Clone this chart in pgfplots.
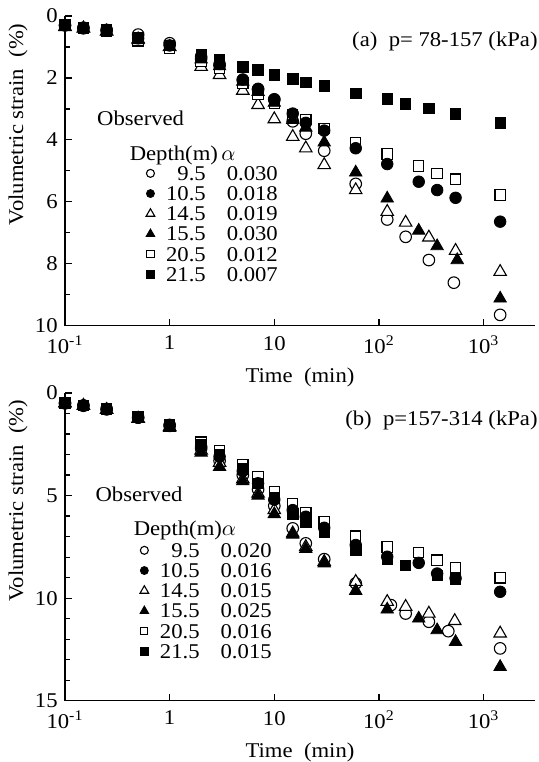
\documentclass[border=0pt]{standalone}
\usepackage{fontspec}
\setmainfont{Liberation Serif}[FakeStretch=1.08]
\usepackage{pgfplots}
\usepackage{pgfplotstable}
\pgfplotsset{compat=1.18}
\pgfkeys{/pgf/number format/assume math mode=true}

\pgfplotstableread{
t y
0.1 0.30
0.15 0.38
0.25 0.45
0.5 0.60
1 0.88
2 1.37
3 1.60
5 2.07
7 2.37
10 2.69
15 3.40
20 3.80
30 4.35
60 5.42
120 6.57
180 7.13
300 7.88
520 8.61
1440 9.65
}\aOC
\pgfplotstableread{
t y
0.1 0.30
0.15 0.40
0.25 0.47
0.5 0.72
1 0.95
2 1.30
3 1.55
5 2.05
7 2.35
10 2.70
15 3.15
20 3.45
30 3.70
60 4.27
120 4.78
240 5.35
360 5.62
540 5.87
1440 6.64
}\aFC
\pgfplotstableread{
t y
0.1 0.35
0.15 0.40
0.25 0.50
0.5 0.75
1 1.00
2 1.64
3 1.90
5 2.41
7 2.87
10 3.33
15 3.90
20 4.27
30 4.81
60 5.62
120 6.32
180 6.67
300 7.15
540 7.58
1440 8.26
}\aOT
\pgfplotstableread{
t y
0.1 0.35
0.15 0.40
0.25 0.50
0.5 0.78
1 1.00
2 1.40
3 1.62
5 2.12
7 2.45
10 2.80
15 3.35
20 3.60
30 4.08
60 5.05
120 5.89
240 6.93
360 7.43
560 7.88
1440 9.12
}\aFT
\pgfplotstableread{
t y
0.1 0.30
0.15 0.40
0.25 0.50
0.5 0.80
1 1.05
2 1.47
3 1.69
5 2.17
7 2.52
10 2.82
15 3.20
20 3.34
30 3.63
60 4.09
120 4.46
240 4.84
360 5.08
540 5.27
1440 5.78
}\aOS
\pgfplotstableread{
t y
0.1 0.28
0.15 0.38
0.25 0.45
0.5 0.70
1 0.95
2 1.23
3 1.40
5 1.64
7 1.74
10 1.90
15 2.03
20 2.14
30 2.26
60 2.50
120 2.68
180 2.84
300 2.98
540 3.16
1440 3.45
}\aFS

\pgfplotstableread{
t y
0.1 0.50
0.15 0.62
0.25 0.78
0.5 1.20
1 1.60
2 2.70
3 3.30
5 4.00
7 4.70
10 5.50
15 6.60
20 7.33
30 8.10
60 9.28
130 10.34
180 10.75
300 11.15
460 11.61
1440 12.45
}\bOC
\pgfplotstableread{
t y
0.1 0.50
0.15 0.60
0.25 0.80
0.5 1.20
1 1.55
2 2.60
3 3.10
5 3.80
7 4.40
10 5.20
15 5.71
20 6.03
30 6.57
60 7.41
120 7.98
240 8.28
360 8.80
540 9.03
1440 9.69
}\bFC
\pgfplotstableread{
t y
0.1 0.50
0.15 0.62
0.25 0.82
0.5 1.25
1 1.65
2 2.80
3 3.40
5 4.20
7 4.90
10 5.70
15 6.84
20 7.50
30 8.23
60 9.20
120 10.18
180 10.42
300 10.75
530 11.11
1440 11.72
}\bOT
\pgfplotstableread{
t y
0.1 0.50
0.15 0.62
0.25 0.82
0.5 1.25
1 1.70
2 2.90
3 3.60
5 4.30
7 5.00
10 5.90
15 6.90
20 7.60
30 8.30
60 9.64
120 10.55
240 10.99
360 11.56
540 12.13
1440 13.35
}\bFT
\pgfplotstableread{
t y
0.1 0.48
0.15 0.60
0.25 0.78
0.5 1.18
1 1.55
2 2.40
3 2.80
5 3.50
7 4.10
10 4.80
15 5.38
20 5.84
30 6.28
60 6.98
120 7.50
240 7.77
360 8.15
540 8.52
1440 9.01
}\bOS
\pgfplotstableread{
t y
0.1 0.50
0.15 0.60
0.25 0.80
0.5 1.20
1 1.60
2 2.50
3 3.00
5 3.70
7 4.40
10 5.10
15 5.90
20 6.30
30 6.80
60 7.66
120 8.10
180 8.40
360 8.88
540 9.07
}\bFS

\newcommand{\lrow}[2]{\hspace{4pt}\makebox[2.0em][r]{#1}\hspace{1.0em}#2}
\newcommand{\fsz}{\fontsize{10.5}{12}\selectfont}

\tikzset{
  mkOC/.style={mark=*, mark options={fill=white, draw=black, line width=0.55pt}},
  mkFC/.style={mark=*, mark options={fill=black, draw=black}},
  mkOT/.style={mark=triangle*, mark options={fill=white, draw=black, line width=0.55pt}},
  mkFT/.style={mark=triangle*, mark options={fill=black, draw=black}},
  mkOS/.style={mark=square*, mark options={fill=white, draw=black, line width=0.55pt}},
  mkFS/.style={mark=square*, mark options={fill=black, draw=black}},
}

\begin{document}
\fontsize{10.5}{12.6}\selectfont
\begin{tikzpicture}
\useasboundingbox (0,0) rectangle (269.5pt,-381pt);
\begin{axis}[
    scale only axis, width=235pt, height=154.85pt, anchor=south west,
    at={(32.5pt,-162.85pt)},
    xmode=log, xmin=0.1, xmax=3100,
    ymin=0, ymax=10, y dir=reverse,
    axis x line=bottom, axis y line=left, axis line style={-, line width=0.7pt},
    xtick={0.1,1,10,100,1000},
    xticklabels={10\textsuperscript{-1},1,10,10\textsuperscript{2},10\textsuperscript{3}},
    xminorticks=false,
    ytick={0,2,4,6,8,10}, minor ytick={1,3,5,7,9},
    tick align=inside, major tick length=3.5pt, minor tick length=2.5pt,
    tick style={line width=0.6pt, black},
    tick label style={font=\fsz},
    xticklabel style={yshift=-1.5pt},
    label style={font=\fsz},
    xlabel={Time\ \ (min)},
    ylabel={Volumetric strain\ \ (\%)},
    ylabel style={at={(axis description cs:-0.1,0.65)}, anchor=center},
    legend style={draw=none, fill=none, anchor=north west,
      at={(axis description cs:0.159,0.532)},
      font=\fsz, row sep=2.1pt,
      nodes={inner sep=0.5pt, text height=7pt, text depth=0pt}},
    legend cell align=left,
  ]
\addplot[only marks, mkOC, mark size=2.9pt, forget plot] table {\aOC};
\addplot[only marks, mkOT, mark size=3.6pt, forget plot] table {\aOT};
\addplot[only marks, mkOS, mark size=2.6pt, forget plot] table {\aOS};
\addplot[only marks, mkFC, mark size=2.9pt, forget plot] table {\aFC};
\addplot[only marks, mkFT, mark size=3.6pt, forget plot] table {\aFT};
\addplot[only marks, mkFS, mark size=2.6pt, forget plot] table {\aFS};
\addlegendimage{only marks, mkOC, mark size=2pt}
\addlegendentry{\lrow{9.5}{0.030}}
\addlegendimage{only marks, mkFC, mark size=2pt}
\addlegendentry{\lrow{10.5}{0.018}}
\addlegendimage{only marks, mkOT, mark size=2.5pt}
\addlegendentry{\lrow{14.5}{0.019}}
\addlegendimage{only marks, mkFT, mark size=2.5pt}
\addlegendentry{\lrow{15.5}{0.030}}
\addlegendimage{only marks, mkOS, mark size=1.8pt}
\addlegendentry{\lrow{20.5}{0.012}}
\addlegendimage{only marks, mkFS, mark size=1.8pt}
\addlegendentry{\lrow{21.5}{0.007}}
\end{axis}
\begin{axis}[
    scale only axis, width=235pt, height=153.85pt, anchor=south west,
    at={(32.5pt,-350.35pt)},
    xmode=log, xmin=0.1, xmax=3100,
    ymin=0, ymax=15, y dir=reverse,
    axis x line=bottom, axis y line=left, axis line style={-, line width=0.7pt},
    xtick={0.1,1,10,100,1000},
    xticklabels={10\textsuperscript{-1},1,10,10\textsuperscript{2},10\textsuperscript{3}},
    xminorticks=false,
    ytick={0,5,10,15}, minor ytick={1,2,3,4,6,7,8,9,11,12,13,14},
    tick align=inside, major tick length=3.5pt, minor tick length=2.5pt,
    tick style={line width=0.6pt, black},
    tick label style={font=\fsz},
    xticklabel style={yshift=-1.5pt},
    label style={font=\fsz},
    xlabel={Time\ \ (min)},
    ylabel={Volumetric strain\ \ (\%)},
    ylabel style={at={(axis description cs:-0.1,0.65)}, anchor=center},
    legend style={draw=none, fill=none, anchor=north west,
      at={(axis description cs:0.146,0.529)},
      font=\fsz, row sep=2.1pt,
      nodes={inner sep=0.5pt, text height=7pt, text depth=0pt}},
    legend cell align=left,
  ]
\addplot[only marks, mkOC, mark size=2.9pt, forget plot] table {\bOC};
\addplot[only marks, mkOT, mark size=3.6pt, forget plot] table {\bOT};
\addplot[only marks, mkOS, mark size=2.6pt, forget plot] table {\bOS};
\addplot[only marks, mkFC, mark size=2.9pt, forget plot] table {\bFC};
\addplot[only marks, mkFT, mark size=3.6pt, forget plot] table {\bFT};
\addplot[only marks, mkFS, mark size=2.6pt, forget plot] table {\bFS};
\addlegendimage{only marks, mkOC, mark size=2pt}
\addlegendentry{\lrow{9.5}{0.020}}
\addlegendimage{only marks, mkFC, mark size=2pt}
\addlegendentry{\lrow{10.5}{0.016}}
\addlegendimage{only marks, mkOT, mark size=2.5pt}
\addlegendentry{\lrow{14.5}{0.015}}
\addlegendimage{only marks, mkFT, mark size=2.5pt}
\addlegendentry{\lrow{15.5}{0.025}}
\addlegendimage{only marks, mkOS, mark size=1.8pt}
\addlegendentry{\lrow{20.5}{0.016}}
\addlegendimage{only marks, mkFS, mark size=1.8pt}
\addlegendentry{\lrow{21.5}{0.015}}
\end{axis}
\node[anchor=east, inner sep=0pt] at (269pt,-20.5pt) {(a)\ \ p= 78-157 (kPa)};
\node[anchor=east, inner sep=0pt] at (269pt,-210pt) {(b)\ \ p=157-314 (kPa)};
\node at (70.3pt,-59pt) {Observed};
\node[anchor=west, inner sep=0pt] at (64.7pt,-77.5pt) {Depth(m)\,$\alpha$};
\node at (69.5pt,-247pt) {Observed};
\node[anchor=west, inner sep=0pt] at (66.7pt,-265pt) {Depth(m)$\alpha$};
\end{tikzpicture}
\end{document}
